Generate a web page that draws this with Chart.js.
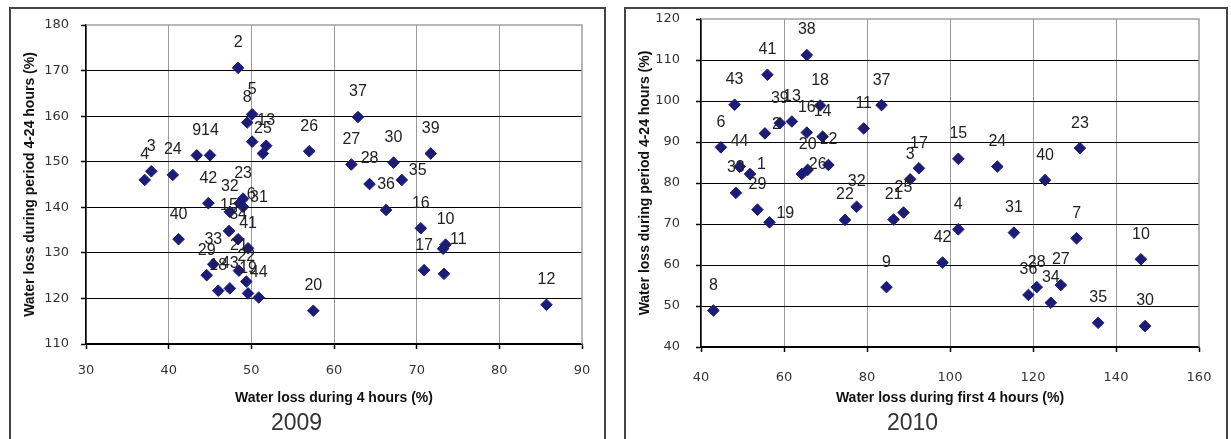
<!DOCTYPE html>
<html>
<head>
<meta charset="utf-8">
<script src="https://cdn.jsdelivr.net/npm/chart.js@4"></script>
<style>
  body { margin: 0; background: #fff; width: 1231px; height: 439px; overflow: hidden; position: relative; }
  .box { position: absolute; border: 2px solid #444; border-bottom: none; }
  #box1 { left: 9px; top: 7px; width: 593px; height: 432px; }
  #box2 { left: 624px; top: 7px; width: 600px; height: 432px; }
  canvas { display: block; }
</style>
</head>
<body>
<div class="box" id="box1"><canvas id="c2009" width="593" height="430"></canvas></div>
<div class="box" id="box2"><canvas id="c2010" width="600" height="430"></canvas></div>
<script>
// 2009 - point numbers, water loss 0-4 h, water loss 4-24 h
var ids2009 = ['', '2', '3', '4', '5', '6', '8', '9', '10', '11', '12', '13', '14', '15', '16', '17', '18', '19', '20', '21', '22',
  '23', '24', '25', '26', '27', '28', '29', '30', '31', '32', '33', '34', '35', '36', '37', '39', '40', '41', '42', '43', '44', ''];
var x2009 = [50.1, 48.4, 37.9, 37.1, 50.1, 48.6, 49.5, 43.4, 73.5, 73.2, 85.7, 51.8, 45.0, 47.3, 70.5, 70.9, 46.0, 49.6, 57.5, 48.5, 49.4,
  49.0, 40.5, 51.4, 57.0, 62.1, 64.3, 44.6, 67.2, 49.0, 47.4, 45.4, 48.4, 68.2, 66.3, 62.9, 71.7, 41.2, 49.6, 44.8, 47.4, 50.9, 73.3];
var y2009 = [154.4, 170.6, 147.9, 146.0, 160.4, 140.9, 158.6, 151.4, 131.8, 130.9, 118.6, 153.5, 151.4, 134.8, 135.4, 126.2, 121.7, 121.1, 117.3, 126.1, 123.7,
  141.9, 147.1, 151.8, 152.3, 149.4, 145.1, 125.1, 149.8, 140.1, 139.0, 127.5, 133.0, 146.0, 139.4, 159.8, 151.8, 133.0, 131.0, 140.9, 122.2, 120.2, 125.4];
var xTicks2009 = [30, 40, 50, 60, 70, 80, 90];
var yTicks2009 = [110, 120, 130, 140, 150, 160, 170, 180];

// 2010
var ids2010 = ['1', '2', '3', '4', '6', '7', '8', '9', '10', '11', '12', '13', '14', '15', '16', '17', '18', '19', '20', '21', '22',
  '23', '24', '25', '26', '27', '28', '29', '30', '31', '32', '33', '34', '35', '36', '37', '38', '39', '40', '41', '42', '43', '44'];
var x2010 = [51.8, 55.4, 90.4, 102.0, 44.8, 130.5, 43.0, 84.7, 146.0, 79.2, 70.7, 61.9, 69.3, 102.0, 65.5, 92.5, 68.7, 56.5, 65.7, 86.4, 74.7,
  131.3, 111.4, 88.8, 64.3, 126.7, 120.9, 53.6, 147.0, 115.4, 77.5, 48.4, 124.3, 135.7, 118.9, 83.5, 65.5, 59.0, 122.9, 56.0, 98.2, 48.1, 49.3];
var y2010 = [82.2, 92.1, 80.9, 68.7, 88.7, 66.5, 48.9, 54.6, 61.4, 93.3, 84.4, 95.0, 91.3, 85.9, 92.3, 83.6, 98.9, 70.4, 83.2, 71.1, 71.0,
  88.5, 84.0, 72.8, 82.2, 55.1, 54.6, 73.5, 45.1, 67.9, 74.2, 77.6, 50.8, 45.9, 52.7, 99.0, 111.2, 94.6, 80.7, 106.4, 60.6, 99.1, 84.0];
var xTicks2010 = [40, 60, 80, 100, 120, 140, 160];
var yTicks2010 = [40, 50, 60, 70, 80, 90, 100, 110, 120];

// labels that sit to the right of the marker instead of above it
var rightLabels2009 = ['6', '11', '31', '35'];
var rightLabels2010 = ['1', '2', '19', '26'];

var navy = '#1c1c78';

var pointLabels = {
  id: 'pointLabels',
  afterDatasetsDraw: function(chart, args, opts) {
    var ctx = chart.ctx;
    var ds = chart.data.datasets[0];
    var meta = chart.getDatasetMeta(0);
    ctx.save();
    ctx.font = '16px "Liberation Sans", Arial, sans-serif';
    ctx.fillStyle = '#222';
    ctx.textBaseline = 'middle';
    meta.data.forEach(function(pt, i) {
      var t = ds.ids[i];
      if (!t) return;
      if (opts.right.indexOf(t) >= 0) {
        ctx.textAlign = 'left';
        ctx.fillText(t, pt.x + 7, pt.y - 9);
      } else {
        ctx.textAlign = 'center';
        ctx.fillText(t, pt.x, pt.y - 25);
      }
    });
    ctx.restore();
  }
};

var plotFrame = {
  id: 'plotFrame',
  beforeDatasetsDraw: function(chart) {
    var a = chart.chartArea, ctx = chart.ctx;
    ctx.save();
    ctx.strokeStyle = '#a0a0a0';
    ctx.lineWidth = 1.5;
    ctx.beginPath();
    ctx.moveTo(a.left, a.top);
    ctx.lineTo(a.right, a.top);
    ctx.lineTo(a.right, a.bottom);
    ctx.stroke();
    ctx.restore();
  }
};

function makeChart(id, ids, xs, ys, xTicks, yTicks, xTitle, year, lay) {
  var pts = xs.map(function(v, i) { return {x: v, y: ys[i]}; });
  var xMax = xTicks[xTicks.length - 1], yMax = yTicks[yTicks.length - 1];
  return new Chart(document.getElementById(id), {
    type: 'scatter',
    data: {
      datasets: [{
        data: pts,
        ids: ids,
        pointStyle: 'rectRot',
        radius: 5.8,
        hoverRadius: 5.8,
        backgroundColor: navy,
        borderColor: navy,
        borderWidth: 1
      }]
    },
    options: {
      responsive: false,
      animation: false,
      events: [],
      layout: { padding: { left: 0, top: lay.top, right: lay.right, bottom: 2 } },
      plugins: {
        legend: { display: false },
        tooltip: { enabled: false },
        title: {
          display: true,
          position: 'bottom',
          text: year,
          color: '#333',
          padding: 0,
          font: { family: '"Liberation Sans", Arial, sans-serif', size: 23, weight: 'normal' }
        },
        pointLabels: { right: lay.rightLabels }
      },
      scales: {
        x: {
          type: 'linear',
          min: xTicks[0],
          max: xMax,
          afterBuildTicks: function(s) { s.ticks = xTicks.map(function(v) { return {value: v}; }); },
          afterFit: function(s) { s.height = lay.xh; s.paddingLeft = 0; s.paddingRight = 0; },
          ticks: {
            color: '#333',
            padding: lay.xpad,
            font: { family: '"DejaVu Sans", sans-serif', size: 13 }
          },
          grid: {
            color: function(c) { return c.tick && c.tick.value === xMax ? 'rgba(0,0,0,0)' : '#9a9a9a'; },
            borderDash: [1, 2],
            lineWidth: 1,
            tickColor: '#000',
            tickBorderDash: [],
            tickLength: 5,
            tickWidth: 1.5
          },
          border: { display: true, color: '#000', width: 1.5 },
          title: {
            display: true,
            text: xTitle,
            color: '#111',
            padding: { top: 0, bottom: lay.xtpad },
            font: { family: '"Liberation Sans", Arial, sans-serif', size: 14, weight: 'bold' }
          }
        },
        y: {
          type: 'linear',
          min: yTicks[0],
          max: yMax,
          afterBuildTicks: function(s) { s.ticks = yTicks.map(function(v) { return {value: v}; }); },
          afterFit: function(s) { s.width = 75; s.paddingTop = 0; s.paddingBottom = 0; },
          ticks: {
            color: '#333',
            padding: lay.ypad,
            font: { family: '"DejaVu Sans", sans-serif', size: 13 }
          },
          grid: {
            color: function(c) { return c.tick && c.tick.value === yMax ? 'rgba(0,0,0,0)' : '#000'; },
            borderDash: [4, 3],
            lineWidth: 1,
            tickColor: '#000',
            tickBorderDash: [],
            tickLength: 5,
            tickWidth: 1.5
          },
          border: { display: true, color: '#000', width: 1.5 },
          title: {
            display: true,
            text: 'Water loss during period 4-24 hours (%)',
            color: '#111',
            padding: { top: 10.6, bottom: 0 },
            font: { family: '"Liberation Sans", Arial, sans-serif', size: 14, weight: 'bold' }
          }
        }
      }
    },
    plugins: [plotFrame, pointLabels]
  });
}

makeChart('c2009', ids2009, x2009, y2009, xTicks2009, yTicks2009, 'Water loss during 4 hours (%)', '2009',
  { top: 16, right: 22, xh: 65.4, xpad: 14, xtpad: 3, ypad: 12, rightLabels: rightLabels2009 });
makeChart('c2010', ids2010, x2010, y2010, xTicks2010, yTicks2010, 'Water loss during first 4 hours (%)', '2010',
  { top: 10, right: 27, xh: 62.4, xpad: 18, xtpad: 3, ypad: 16, rightLabels: rightLabels2010 });
</script>
</body>
</html>
